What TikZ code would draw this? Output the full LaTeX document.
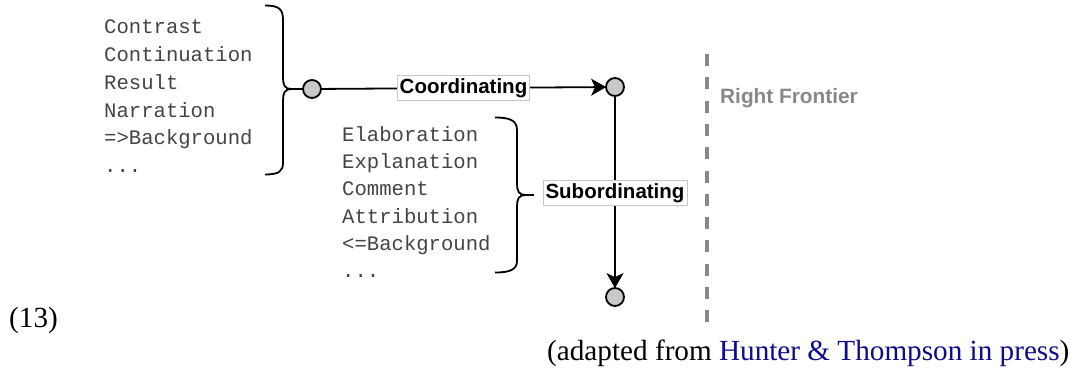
\documentclass[tikz,border=0pt]{standalone}
\usepackage{fontspec}
\setmainfont{Liberation Serif}
\newfontfamily\monofam{Liberation Mono}
\newfontfamily\sansfam{Liberation Sans}
\usetikzlibrary{arrows.meta}
\definecolor{monogrey}{HTML}{444444}
\definecolor{rfgrey}{HTML}{888888}
\definecolor{dotfill}{HTML}{C8C8C8}
\definecolor{citeblue}{rgb}{0.05,0.05,0.55}
\tikzset{
  listtext/.style={anchor=base west, inner sep=0pt, text=monogrey, font=\monofam\fontsize{20.6}{24}\selectfont},
  dot/.style={circle, draw=black, line width=1.8pt, fill=dotfill, minimum size=18pt, inner sep=0pt},
  conn/.style={line width=1.8pt, draw=black},
  arr/.style={conn, -{Stealth[length=15pt, width=17pt, inset=4pt]}, shorten >=-1pt},
  lbl/.style={fill=white, draw=black!22, line width=0.8pt, inner xsep=2.5pt, inner ysep=3pt, text=black, font=\sansfam\bfseries\fontsize{20.5}{24}\selectfont},
  bracestyle/.style={line width=1.8pt, draw=black, line join=round},
  rf/.style={draw=rfgrey, line width=4pt, dash pattern=on 12pt off 11.3pt},
  rftext/.style={anchor=base west, inner sep=0pt, text=rfgrey, font=\sansfam\bfseries\fontsize{20.8}{24}\selectfont},
  serif/.style={anchor=base west, inner sep=0pt, font=\fontsize{29.2}{34}\selectfont}
}
\begin{document}
\begin{tikzpicture}[x=1pt, y=-1pt]
\useasboundingbox (0,0) rectangle (1070,368);

% left list
\node[listtext] (a1) at (104,33.3) {Contrast};
\node[listtext] (a2) at (104,61.2) {Continuation};
\node[listtext] (a3) at (104,89.1) {Result};
\node[listtext] (a4) at (104,117.0) {Narration};
\node[listtext] (a5) at (104,144.9) {=>Background};
\node[listtext] (a6) at (104,172.8) {...};

% right list
\node[listtext] (b1) at (342,141.7) {Elaboration};
\node[listtext] (b2) at (342,168.8) {Explanation};
\node[listtext] (b3) at (342,195.9) {Comment};
\node[listtext] (b4) at (342,223.0) {Attribution};
\node[listtext] (b5) at (342,250.1) {<=Background};
\node[listtext] (b6) at (342,277.2) {...};

% nodes
\node[dot] (c1) at (312,89) {};
\node[dot] (c2) at (615,87) {};
\node[dot] (c3) at (615,297) {};

% left brace
\coordinate (t1) at (291,89);
\draw[bracestyle] (265,5.5) .. controls (279,5.5) and (283,9) .. (283,20)
  -- (283,78) .. controls (283,85) and (285,89) .. (t1)
  .. controls (285,89) and (283,93) .. (283,100)
  -- (283,163) .. controls (283,171) and (279,174.5) .. (265,174.5);
\draw[conn] (t1) -- (c1);

% right brace
\coordinate (t2) at (525,195);
\coordinate (s2) at (534,195);
\draw[bracestyle] (495,117.5) .. controls (509,117.5) and (517,120) .. (517,130)
  -- (517,184) .. controls (517,191) and (519,195) .. (t2)
  .. controls (519,195) and (517,199) .. (517,206)
  -- (517,261) .. controls (517,270) and (509,272.5) .. (495,272.5);
\draw[conn] (t2) -- (s2);

% arrows
\draw[arr] (c1) -- node[lbl] (coord) {Coordinating} (c2);
\draw[arr] (c2) -- node[lbl, pos=0.505] (subord) {Subordinating} (c3);

% right frontier
\coordinate (rf1) at (707,54);
\coordinate (rf2) at (707,322);
\draw[rf] (rf1) -- (rf2);
\node[rftext] (rft) at (720,103) {Right Frontier};

% captions
\node[serif] (num) at (9,327) {(13)};
\node[serif] (src) at (547,360) {(adapted from \textcolor{citeblue}{Hunter \& Thompson in press})};
\end{tikzpicture}
\end{document}
